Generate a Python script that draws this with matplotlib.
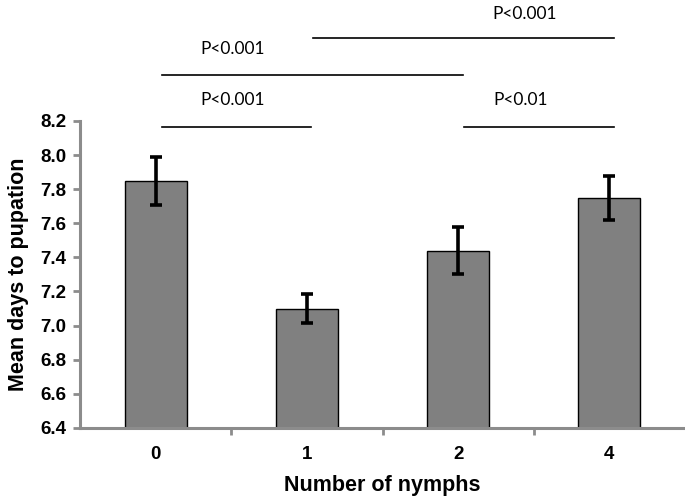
import numpy as np
import matplotlib
matplotlib.use("Agg")
import matplotlib.pyplot as plt
from matplotlib.ticker import FixedLocator

# data
nymphs = ["0", "1", "2", "4"]
mean_days = [7.85, 7.10, 7.44, 7.75]
sem = [0.14, 0.085, 0.14, 0.13]

# significance brackets: (from bar, to bar, line level, label, label x, label y)
comparisons = [
    (0, 1, 8.165, "P<0.001", 0.51, 8.32),
    (0, 2, 8.47, "P<0.001", 0.51, 8.62),
    (1, 3, 8.685, "P<0.001", 2.44, 8.83),
    (2, 3, 8.165, "P<0.01", 2.41, 8.32),
]

plt.rcParams['font.family'] = ['Liberation Sans', 'DejaVu Sans']

fig = plt.figure(figsize=(6.85, 5.04), dpi=100)
ax = fig.add_axes([0.1168, 0.151, 0.8832, 0.609])

x = np.arange(len(nymphs))
ax.bar(x, mean_days, width=0.41, bottom=0, color="#808080",
       edgecolor="black", linewidth=1.0, zorder=2)
ax.errorbar(x, mean_days, yerr=sem, fmt="none", ecolor="black",
            elinewidth=2.6, capsize=4, capthick=2.6, zorder=3)

ax.set_ylim(6.4, 8.2)
ax.set_xlim(-0.5, 3.5)
ax.set_yticks(np.arange(6.4, 8.21, 0.2))
ax.set_yticklabels(["%.1f" % v for v in np.arange(6.4, 8.21, 0.2)],
                   fontsize=13.5, fontweight="bold")
ax.set_xticks(x)
ax.set_xticklabels(nymphs, fontsize=13.5, fontweight="bold")
ax.xaxis.set_minor_locator(FixedLocator([0.5, 1.5, 2.5]))
ax.tick_params(axis="x", which="major", length=0, pad=13)
ax.tick_params(axis="x", which="minor", length=5, width=2, color="#8c8c8c")
ax.tick_params(axis="y", length=5, width=2, color="#8c8c8c", pad=5)

for s in ["top", "right"]:
    ax.spines[s].set_visible(False)
for s in ["left", "bottom"]:
    ax.spines[s].set_color("#8c8c8c")
    ax.spines[s].set_linewidth(2.2)

ax.set_ylabel("Mean days to pupation", fontsize=15.5, fontweight="bold", labelpad=8)
ax.set_xlabel("Number of nymphs", fontsize=15.5, fontweight="bold", labelpad=9)

for a, b, lev, lab, tx, ty in comparisons:
    ax.plot([a + 0.04, b + 0.03], [lev, lev], color="black", lw=1.2,
            clip_on=False, zorder=4)
    ax.text(tx, ty, lab, ha="center", va="center", fontsize=12.5,
            family=["Lato", "DejaVu Sans"], clip_on=False)

fig.savefig("out.png", dpi=100)
